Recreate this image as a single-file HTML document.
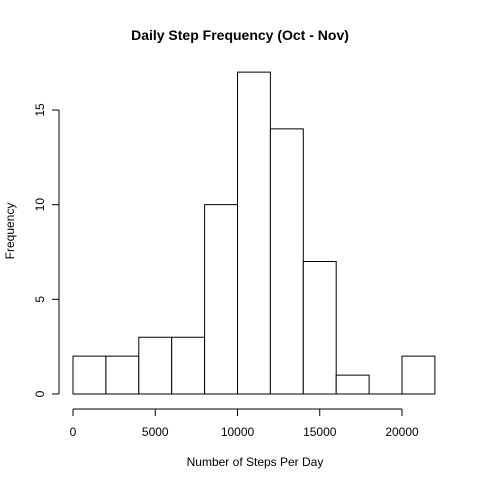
<!DOCTYPE html>
<html><head><meta charset="utf-8"><style>
body{margin:0;background:#fff}
svg text{font-family:"Liberation Sans",Arial,sans-serif;fill:#000}
</style></head><body>
<svg id="c" width="480" height="480" xmlns="http://www.w3.org/2000/svg">
<text x="240" y="40" text-anchor="middle" font-size="14" font-weight="bold">Daily Step Frequency (Oct - Nov)</text>
<text x="255" y="466" text-anchor="middle" font-size="12">Number of Steps Per Day</text>
<text transform="translate(14,231) rotate(-90)" text-anchor="middle" font-size="12">Frequency</text>
<g id="bars"></g>
<g id="xaxis"></g>
<g id="yaxis"></g>
</svg>
<script>
const binStarts=[0,2000,4000,6000,8000,10000,12000,14000,16000,18000,20000];
const binWidth=2000;
const counts=[2,2,3,3,10,17,14,7,1,0,2];
const xTicks=[0,5000,10000,15000,20000];
const yTicks=[0,5,10,15];
const NS="http://www.w3.org/2000/svg";
function xs(v){return 73+v*(402-73)/20000;}
function ys(v){return 394-v*(394-110)/15;}
function mk(t,a,p){const e=document.createElementNS(NS,t);for(const k in a)e.setAttribute(k,a[k]);p.appendChild(e);return e;}
const bars=document.getElementById('bars');
counts.forEach((c,i)=>{
 const x0=xs(binStarts[i]),x1=xs(binStarts[i]+binWidth),y0=ys(0),y1=ys(c);
 const r=mk('path',{d:'M'+x0+','+y0+'L'+x0+','+y1+'L'+x1+','+y1+'L'+x1+','+y0+'Z',fill:'#fff',stroke:'#000','stroke-width':1},bars);
 
 
});
const xa=document.getElementById('xaxis');
mk('line',{x1:xs(xTicks[0]),x2:xs(xTicks[xTicks.length-1]),y1:409,y2:409,stroke:'#000'},xa);
xTicks.forEach(t=>{
 mk('line',{x1:xs(t),x2:xs(t),y1:409,y2:416,stroke:'#000'},xa);
 const tx=mk('text',{x:xs(t),y:436,'text-anchor':'middle','font-size':12},xa);
 tx.textContent=t;
 
 
});
const ya=document.getElementById('yaxis');
mk('line',{x1:59,x2:59,y1:ys(yTicks[0]),y2:ys(yTicks[yTicks.length-1]),stroke:'#000'},ya);
yTicks.forEach(t=>{
 mk('line',{x1:52,x2:59,y1:ys(t),y2:ys(t),stroke:'#000'},ya);
 const tx=mk('text',{transform:'translate(44,'+ys(t)+') rotate(-90)','text-anchor':'middle','font-size':12},ya);
 tx.textContent=t;
 
 
});
</script>
</body></html>
